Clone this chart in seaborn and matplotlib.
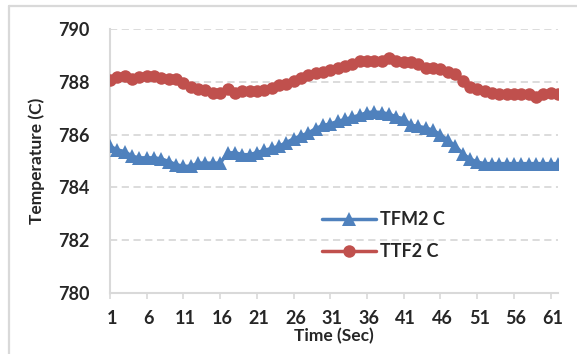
import numpy as np
import pandas as pd
import matplotlib
matplotlib.use("Agg")
import matplotlib.pyplot as plt
import matplotlib.transforms as mtransforms
from matplotlib.lines import Line2D
import seaborn as sns

# Readings, one per second
time_sec = list(range(1, 63))

tfm2_c = [785.56, 785.42, 785.36, 785.18, 785.12, 785.12, 785.12, 785.08, 784.98, 784.86,
          784.80, 784.80, 784.92, 784.92, 784.92, 784.92, 785.30, 785.32, 785.24, 785.24,
          785.32, 785.40, 785.48, 785.56, 785.70, 785.84, 785.96, 786.06, 786.23, 786.35,
          786.41, 786.50, 786.58, 786.66, 786.74, 786.84, 786.86, 786.84, 786.78, 786.67,
          786.60, 786.36, 786.31, 786.26, 786.16, 786.00, 785.78, 785.58, 785.28, 785.08,
          784.96, 784.90, 784.90, 784.90, 784.90, 784.90, 784.90, 784.90, 784.90, 784.90,
          784.90, 784.90]

ttf2_c = [788.08, 788.20, 788.22, 788.12, 788.20, 788.24, 788.24, 788.16, 788.13, 788.10,
          787.97, 787.82, 787.72, 787.68, 787.60, 787.57, 787.72, 787.57, 787.66, 787.66,
          787.66, 787.68, 787.78, 787.90, 787.92, 788.04, 788.16, 788.25, 788.33, 788.39,
          788.45, 788.54, 788.62, 788.70, 788.78, 788.80, 788.80, 788.80, 788.90, 788.80,
          788.75, 788.75, 788.67, 788.54, 788.54, 788.48, 788.38, 788.32, 788.05, 787.82,
          787.72, 787.66, 787.60, 787.55, 787.55, 787.55, 787.55, 787.55, 787.42, 787.55,
          787.57, 787.55]

series_names = ["TFM2 C", "TTF2 C"]
series_colors = ["#4F81BD", "#C0504D"]
series_markers = ["^", "o"]

x_ticks = list(range(1, 62, 5))
y_ticks = [780, 782, 784, 786, 788, 790]

df = pd.DataFrame({
    "Time (Sec)": time_sec * 2,
    "Temperature (C)": tfm2_c + ttf2_c,
    "Series": [series_names[0]] * len(time_sec) + [series_names[1]] * len(time_sec),
})

sns.set_style("white")
plt.rcParams["font.family"] = ["Lato", "DejaVu Sans"]
plt.rcParams["font.weight"] = "bold"

W, H = 577, 354
fig = plt.figure(figsize=(W / 100, H / 100), dpi=100)
ax = fig.add_axes([110 / W, 1 - 292.7 / H, (558 - 110) / W, (292.7 - 29.3) / H])

# Chart frame: only its top and left edges fall inside the image
grid_color = "#D9D9D9"
fx, fy = 8.5 / W, 1 - 5.5 / H
fig.add_artist(Line2D([fx, 1.0], [fy, fy], transform=fig.transFigure,
                      color=grid_color, linewidth=1.6, solid_capstyle="round"))
fig.add_artist(Line2D([fx, fx], [0.0, fy], transform=fig.transFigure,
                      color=grid_color, linewidth=1.6, solid_capstyle="round"))

for yv in y_ticks[1:]:
    ax.axhline(yv, color=grid_color, linewidth=1.3, linestyle=(0, (4, 2.5)), zorder=1)

for name, color, marker in zip(series_names, series_colors, series_markers):
    sub = df[df["Series"] == name]
    sns.lineplot(data=sub, x="Time (Sec)", y="Temperature (C)", ax=ax, color=color,
                 marker=marker, markersize=9 if marker == "o" else 9.5,
                 markeredgewidth=0, linewidth=2.5, label=name, zorder=3)

ax.set_xlim(1, 62)
ax.set_ylim(780, 790)
ax.set_xticks(x_ticks)
ax.set_xticklabels([str(t) for t in x_ticks])
ax.set_yticks(y_ticks)
ax.set_yticklabels([str(t) for t in y_ticks])

for side in ["top", "right"]:
    ax.spines[side].set_visible(False)
for side in ["left", "bottom"]:
    ax.spines[side].set_color(grid_color)
    ax.spines[side].set_linewidth(1.5)

ax.tick_params(axis="x", direction="out", length=4.5, width=1.2, color=grid_color,
               pad=8, labelsize=13, bottom=True)
ax.tick_params(axis="y", length=0, pad=15, labelsize=13, left=False)
shift = mtransforms.ScaledTranslation(2 / 100, 0, fig.dpi_scale_trans)
for lab in ax.get_xticklabels():
    lab.set_transform(lab.get_transform() + shift)
    lab.set_fontweight("bold")
for lab in ax.get_yticklabels():
    lab.set_fontweight("bold")

ax.set_xlabel("Time (Sec)", fontsize=12.5, fontweight="bold")
ax.set_ylabel("Temperature (C)", fontsize=12.5, fontweight="bold")
ax.xaxis.set_label_coords(0.5, -0.135)
ax.yaxis.set_label_coords(-0.145, 0.5)

leg = ax.legend(loc="upper left", bbox_to_anchor=(322 / W, 1 - 211 / H),
                bbox_transform=fig.transFigure, frameon=False, fontsize=13,
                handlelength=3.0, handletextpad=0.2, labelspacing=0.85, borderpad=0,
                borderaxespad=0)
for t in leg.get_texts():
    t.set_fontweight("bold")

fig.savefig("out.png", dpi=100)
